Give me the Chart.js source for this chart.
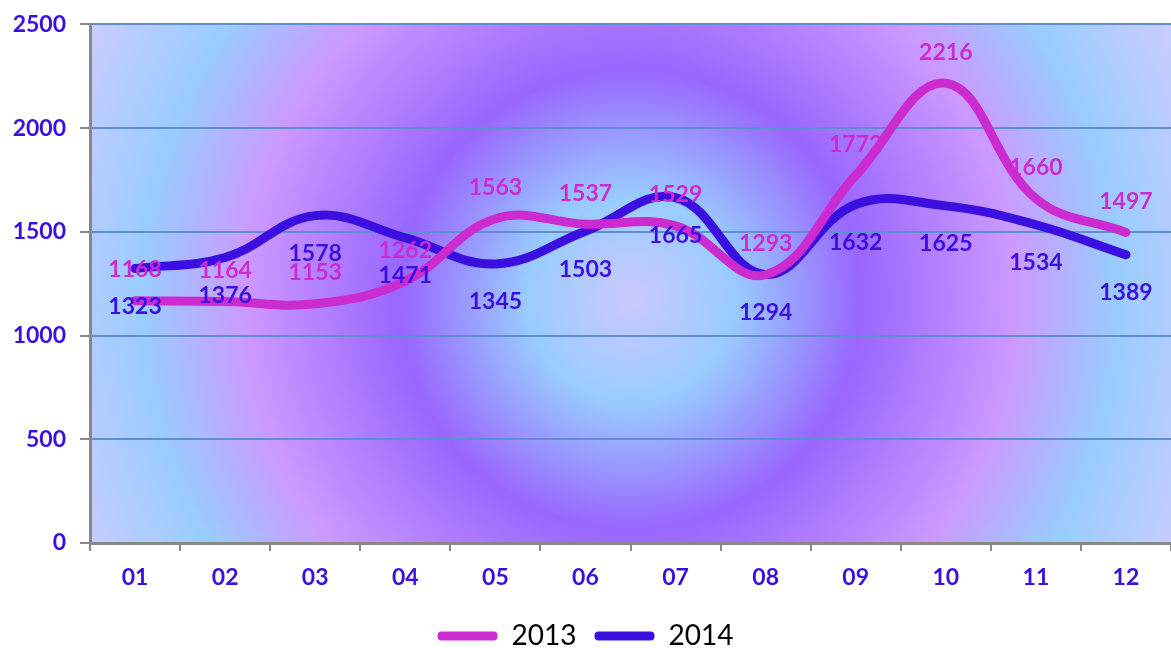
<!DOCTYPE html>
<html>
<head>
<meta charset="utf-8">
<script src="https://cdn.jsdelivr.net/npm/chart.js@4/dist/chart.umd.min.js"></script>
<style>
  html, body { margin: 0; padding: 0; background: #fff; }
  #wrap { width: 1171px; height: 648px; }
</style>
</head>
<body>
<div id="wrap"><canvas id="grafico" width="1171" height="648"></canvas></div>
<script>
const meses = ["01", "02", "03", "04", "05", "06", "07", "08", "09", "10", "11", "12"];
const valores2013 = [1168, 1164, 1153, 1262, 1563, 1537, 1529, 1293, 1772, 2216, 1660, 1497];
const valores2014 = [1323, 1376, 1578, 1471, 1345, 1503, 1665, 1294, 1632, 1625, 1534, 1389];
const ticksY = [0, 500, 1000, 1500, 2000, 2500];

const corRosa = "#cc2ccf";
const corAzul = "#3a0fe0";
const fonte = "Lato, 'Noto Sans', sans-serif";

// fundo com gradiente radial dentro da area do grafico
const fundo = {
  id: "fundo",
  beforeDraw(chart) {
    const { ctx, chartArea: a } = chart;
    const cx = a.left + (a.right - a.left) * 0.5;
    const cy = a.top + (a.bottom - a.top) * 0.53;
    const g = ctx.createRadialGradient(cx, cy, 0, cx, cy, 640);
    g.addColorStop(0, "#ccc8ff");
    g.addColorStop(0.16, "#99ccff");
    g.addColorStop(0.36, "#9966ff");
    g.addColorStop(0.6, "#cc99ff");
    g.addColorStop(0.76, "#99ccff");
    g.addColorStop(0.95, "#ccccff");
    ctx.save();
    ctx.fillStyle = g;
    ctx.fillRect(a.left, a.top, a.right - a.left, a.bottom - a.top);
    ctx.restore();
  }
};

// rotulos dos valores
const rotulos = {
  id: "rotulos",
  afterDatasetsDraw(chart) {
    const ctx = chart.ctx;
    ctx.save();
    ctx.font = "bold 23px " + fonte;
    ctx.textAlign = "center";
    ctx.textBaseline = "middle";
    chart.data.datasets.forEach((ds, i) => {
      const meta = chart.getDatasetMeta(i);
      const desloc = i === 0 ? -31 : 38;
      ctx.fillStyle = ds.borderColor;
      meta.data.forEach((p, j) => {
        ctx.fillText(String(ds.data[j]), p.x, p.y + desloc);
      });
    });
    ctx.restore();
  }
};

const ctx = document.getElementById("grafico").getContext("2d");
new Chart(ctx, {
  type: "line",
  data: {
    labels: meses,
    datasets: [
      { label: "2013", data: valores2013, borderColor: corRosa, backgroundColor: corRosa,
        borderWidth: 9, tension: 0.4, pointRadius: 0, borderCapStyle: "round", borderJoinStyle: "round" },
      { label: "2014", data: valores2014, borderColor: corAzul, backgroundColor: corAzul,
        borderWidth: 9, tension: 0.4, pointRadius: 0, borderCapStyle: "round", borderJoinStyle: "round" }
    ]
  },
  options: {
    responsive: false,
    animation: false,
    layout: { padding: { top: 2, right: 0, left: 0, bottom: -12 } },
    plugins: {
      tooltip: { enabled: false },
      legend: {
        position: "bottom",
        labels: {
          color: "#000",
          font: { family: fonte, size: 28 },
          boxWidth: 60,
          boxHeight: 9,
          padding: 18,
          useBorderRadius: true,
          borderRadius: 4,
          generateLabels(chart) {
            return chart.data.datasets.map((ds, i) => ({
              text: ds.label,
              fillStyle: ds.borderColor,
              strokeStyle: ds.borderColor,
              lineWidth: 0,
              borderRadius: 4,
              datasetIndex: i
            }));
          }
        }
      }
    },
    scales: {
      x: {
        offset: true,
        grid: { offset: true, drawOnChartArea: false, drawTicks: true, tickLength: 8, color: "#888", lineWidth: 2 },
        border: { color: "#888", width: 3 },
        ticks: { color: corAzul, font: { family: fonte, size: 23, weight: "bold" }, padding: 13 },
        afterFit(scale) { scale.height = 61; }
      },
      y: {
        min: 0,
        max: 2500,
        afterBuildTicks(scale) { scale.ticks = ticksY.map(v => ({ value: v })); },
        grid: { color: "#5f8fcf", lineWidth: 2, tickColor: "#888", tickLength: 10 },
        border: { color: "#888", width: 3 },
        ticks: { color: corAzul, font: { family: fonte, size: 23, weight: "bold", lineHeight: 0.9 }, padding: 14,
                 callback: v => String(v) },
        afterFit(scale) { scale.width = 90; }
      }
    }
  },
  plugins: [fundo, rotulos]
});
</script>
</body>
</html>
